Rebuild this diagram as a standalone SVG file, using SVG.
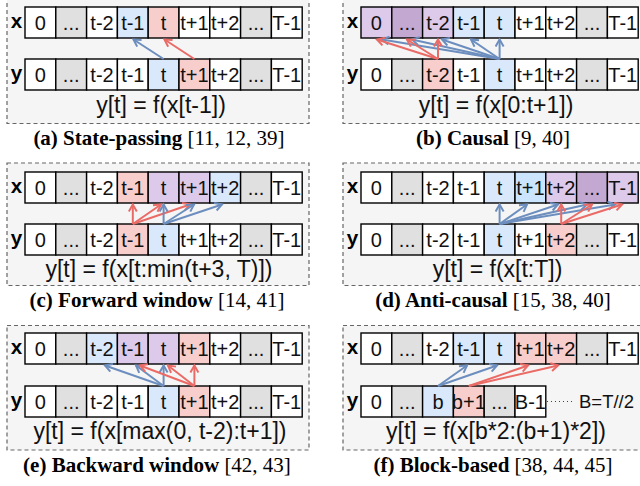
<svg xmlns="http://www.w3.org/2000/svg" width="640" height="486" viewBox="0 0 640 486">
<style>
.panel{fill:#f5f5f5;stroke:#666;stroke-width:1.2;stroke-dasharray:4 3}
rect.c{stroke:#000;stroke-width:1.4}
.w{fill:#fff}.g{fill:#e0e0e0}.b{fill:#dae8fc}.r{fill:#f8cecc}.p{fill:#ddc9ea}.dp{fill:#c3a9d2}.bb{fill:#cce5ff}
text{font-family:"Liberation Sans",Arial,sans-serif}
.t{font-size:20px;text-anchor:middle;fill:#111}
.lab{font-family:"Liberation Mono","Courier New",monospace;font-weight:bold;font-size:20px;text-anchor:middle}
.f{font-size:23px;text-anchor:middle;fill:#111}
.cap{font-family:"Liberation Serif","Times New Roman",serif;font-size:21px;text-anchor:middle}
.cap .bd{font-weight:bold}
.ab{stroke:#6c8ebf;stroke-width:2;fill:none}
.ar{stroke:#ea6b66;stroke-width:2;fill:none}
</style>
<defs>
<marker id="mb" markerUnits="userSpaceOnUse" markerWidth="12" markerHeight="12" refX="8" refY="5" orient="auto" viewBox="0 0 12 12"><path d="M1,1 L8,5 L1,9" fill="none" stroke="#6c8ebf" stroke-width="2"/></marker>
<marker id="mr" markerUnits="userSpaceOnUse" markerWidth="12" markerHeight="12" refX="8" refY="5" orient="auto" viewBox="0 0 12 12"><path d="M1,1 L8,5 L1,9" fill="none" stroke="#ea6b66" stroke-width="2"/></marker>
</defs>

<!-- panel backgrounds -->
<rect class="panel" x="7" y="-3" width="302" height="126.5"/>
<rect class="panel" x="343" y="-3" width="302" height="126.5"/>
<rect class="panel" x="7" y="163" width="302" height="122.5"/>
<rect class="panel" x="343" y="163" width="302" height="122.5"/>
<rect class="panel" x="7" y="325.5" width="302" height="124.5"/>
<rect class="panel" x="343" y="325.5" width="302" height="124.5"/>

<!-- Panel a -->
<g id="panel-a">
<text class="lab" x="16.5" y="27.5">x</text>
<text class="lab" x="16.5" y="79.5">y</text>
<g id="a-x0"><rect class="c w" x="25" y="7" width="30.8" height="31"/><text class="t" x="40.4" y="29.5">0</text></g>
<g id="a-x1"><rect class="c g" x="55.8" y="7" width="30.8" height="31"/><text class="t" x="71.2" y="29.5">...</text></g>
<g id="a-x2"><rect class="c w" x="86.6" y="7" width="30.8" height="31"/><text class="t" x="102" y="29.5">t-2</text></g>
<g id="a-x3"><rect class="c b" x="117.4" y="7" width="30.8" height="31"/><text class="t" x="132.8" y="29.5">t-1</text></g>
<g id="a-x4"><rect class="c r" x="148.2" y="7" width="30.8" height="31"/><text class="t" x="163.6" y="29.5">t</text></g>
<g id="a-x5"><rect class="c w" x="179" y="7" width="30.8" height="31"/><text class="t" x="194.4" y="29.5">t+1</text></g>
<g id="a-x6"><rect class="c w" x="209.8" y="7" width="30.8" height="31"/><text class="t" x="225.2" y="29.5">t+2</text></g>
<g id="a-x7"><rect class="c g" x="240.6" y="7" width="30.8" height="31"/><text class="t" x="256" y="29.5">...</text></g>
<g id="a-x8"><rect class="c w" x="271.4" y="7" width="30.8" height="31"/><text class="t" x="286.8" y="29.5">T-1</text></g>
<g id="a-y0"><rect class="c w" x="25" y="59" width="30.8" height="31"/><text class="t" x="40.4" y="81.5">0</text></g>
<g id="a-y1"><rect class="c g" x="55.8" y="59" width="30.8" height="31"/><text class="t" x="71.2" y="81.5">...</text></g>
<g id="a-y2"><rect class="c w" x="86.6" y="59" width="30.8" height="31"/><text class="t" x="102" y="81.5">t-2</text></g>
<g id="a-y3"><rect class="c w" x="117.4" y="59" width="30.8" height="31"/><text class="t" x="132.8" y="81.5">t-1</text></g>
<g id="a-y4"><rect class="c b" x="148.2" y="59" width="30.8" height="31"/><text class="t" x="163.6" y="81.5">t</text></g>
<g id="a-y5"><rect class="c r" x="179" y="59" width="30.8" height="31"/><text class="t" x="194.4" y="81.5">t+1</text></g>
<g id="a-y6"><rect class="c w" x="209.8" y="59" width="30.8" height="31"/><text class="t" x="225.2" y="81.5">t+2</text></g>
<g id="a-y7"><rect class="c g" x="240.6" y="59" width="30.8" height="31"/><text class="t" x="256" y="81.5">...</text></g>
<g id="a-y8"><rect class="c w" x="271.4" y="59" width="30.8" height="31"/><text class="t" x="286.8" y="81.5">T-1</text></g>
<text class="f" x="161" y="112.5">y[t] = f(x[t-1])</text>
<text class="cap" x="159" y="144.5"><tspan class="bd">(a) State-passing</tspan> [11, 12, 39]</text>
</g>

<!-- Panel b -->
<g id="panel-b">
<text class="lab" x="352.5" y="27.5">x</text>
<text class="lab" x="352.5" y="79.5">y</text>
<g id="b-x0"><rect class="c p" x="361" y="7" width="30.8" height="31"/><text class="t" x="376.4" y="29.5">0</text></g>
<g id="b-x1"><rect class="c dp" x="391.8" y="7" width="30.8" height="31"/><text class="t" x="407.2" y="29.5">...</text></g>
<g id="b-x2"><rect class="c p" x="422.6" y="7" width="30.8" height="31"/><text class="t" x="438" y="29.5">t-2</text></g>
<g id="b-x3"><rect class="c b" x="453.4" y="7" width="30.8" height="31"/><text class="t" x="468.8" y="29.5">t-1</text></g>
<g id="b-x4"><rect class="c b" x="484.2" y="7" width="30.8" height="31"/><text class="t" x="499.6" y="29.5">t</text></g>
<g id="b-x5"><rect class="c w" x="515" y="7" width="30.8" height="31"/><text class="t" x="530.4" y="29.5">t+1</text></g>
<g id="b-x6"><rect class="c w" x="545.8" y="7" width="30.8" height="31"/><text class="t" x="561.2" y="29.5">t+2</text></g>
<g id="b-x7"><rect class="c g" x="576.6" y="7" width="30.8" height="31"/><text class="t" x="592" y="29.5">...</text></g>
<g id="b-x8"><rect class="c w" x="607.4" y="7" width="30.8" height="31"/><text class="t" x="622.8" y="29.5">T-1</text></g>
<g id="b-y0"><rect class="c w" x="361" y="59" width="30.8" height="31"/><text class="t" x="376.4" y="81.5">0</text></g>
<g id="b-y1"><rect class="c g" x="391.8" y="59" width="30.8" height="31"/><text class="t" x="407.2" y="81.5">...</text></g>
<g id="b-y2"><rect class="c r" x="422.6" y="59" width="30.8" height="31"/><text class="t" x="438" y="81.5">t-2</text></g>
<g id="b-y3"><rect class="c w" x="453.4" y="59" width="30.8" height="31"/><text class="t" x="468.8" y="81.5">t-1</text></g>
<g id="b-y4"><rect class="c b" x="484.2" y="59" width="30.8" height="31"/><text class="t" x="499.6" y="81.5">t</text></g>
<g id="b-y5"><rect class="c w" x="515" y="59" width="30.8" height="31"/><text class="t" x="530.4" y="81.5">t+1</text></g>
<g id="b-y6"><rect class="c w" x="545.8" y="59" width="30.8" height="31"/><text class="t" x="561.2" y="81.5">t+2</text></g>
<g id="b-y7"><rect class="c g" x="576.6" y="59" width="30.8" height="31"/><text class="t" x="592" y="81.5">...</text></g>
<g id="b-y8"><rect class="c w" x="607.4" y="59" width="30.8" height="31"/><text class="t" x="622.8" y="81.5">T-1</text></g>
<text class="f" x="496" y="112.5">y[t] = f(x[0:t+1])</text>
<text class="cap" x="493" y="144.5"><tspan class="bd">(b) Causal</tspan> [9, 40]</text>
</g>

<!-- Panel c -->
<g id="panel-c">
<text class="lab" x="16.5" y="192.5">x</text>
<text class="lab" x="16.5" y="244.5">y</text>
<g id="c-x0"><rect class="c w" x="25" y="172" width="30.8" height="31"/><text class="t" x="40.4" y="194.5">0</text></g>
<g id="c-x1"><rect class="c g" x="55.8" y="172" width="30.8" height="31"/><text class="t" x="71.2" y="194.5">...</text></g>
<g id="c-x2"><rect class="c w" x="86.6" y="172" width="30.8" height="31"/><text class="t" x="102" y="194.5">t-2</text></g>
<g id="c-x3"><rect class="c r" x="117.4" y="172" width="30.8" height="31"/><text class="t" x="132.8" y="194.5">t-1</text></g>
<g id="c-x4"><rect class="c p" x="148.2" y="172" width="30.8" height="31"/><text class="t" x="163.6" y="194.5">t</text></g>
<g id="c-x5"><rect class="c p" x="179" y="172" width="30.8" height="31"/><text class="t" x="194.4" y="194.5">t+1</text></g>
<g id="c-x6"><rect class="c b" x="209.8" y="172" width="30.8" height="31"/><text class="t" x="225.2" y="194.5">t+2</text></g>
<g id="c-x7"><rect class="c g" x="240.6" y="172" width="30.8" height="31"/><text class="t" x="256" y="194.5">...</text></g>
<g id="c-x8"><rect class="c w" x="271.4" y="172" width="30.8" height="31"/><text class="t" x="286.8" y="194.5">T-1</text></g>
<g id="c-y0"><rect class="c w" x="25" y="224" width="30.8" height="31"/><text class="t" x="40.4" y="246.5">0</text></g>
<g id="c-y1"><rect class="c g" x="55.8" y="224" width="30.8" height="31"/><text class="t" x="71.2" y="246.5">...</text></g>
<g id="c-y2"><rect class="c w" x="86.6" y="224" width="30.8" height="31"/><text class="t" x="102" y="246.5">t-2</text></g>
<g id="c-y3"><rect class="c r" x="117.4" y="224" width="30.8" height="31"/><text class="t" x="132.8" y="246.5">t-1</text></g>
<g id="c-y4"><rect class="c b" x="148.2" y="224" width="30.8" height="31"/><text class="t" x="163.6" y="246.5">t</text></g>
<g id="c-y5"><rect class="c w" x="179" y="224" width="30.8" height="31"/><text class="t" x="194.4" y="246.5">t+1</text></g>
<g id="c-y6"><rect class="c w" x="209.8" y="224" width="30.8" height="31"/><text class="t" x="225.2" y="246.5">t+2</text></g>
<g id="c-y7"><rect class="c g" x="240.6" y="224" width="30.8" height="31"/><text class="t" x="256" y="246.5">...</text></g>
<g id="c-y8"><rect class="c w" x="271.4" y="224" width="30.8" height="31"/><text class="t" x="286.8" y="246.5">T-1</text></g>
<text class="f" x="159" y="276.5">y[t] = f(x[t:min(t+3, T)])</text>
<text class="cap" x="157" y="307"><tspan class="bd">(c) Forward window</tspan> [14, 41]</text>
</g>

<!-- Panel d -->
<g id="panel-d">
<text class="lab" x="352.5" y="192.5">x</text>
<text class="lab" x="352.5" y="244.5">y</text>
<g id="d-x0"><rect class="c w" x="361" y="172" width="30.8" height="31"/><text class="t" x="376.4" y="194.5">0</text></g>
<g id="d-x1"><rect class="c g" x="391.8" y="172" width="30.8" height="31"/><text class="t" x="407.2" y="194.5">...</text></g>
<g id="d-x2"><rect class="c w" x="422.6" y="172" width="30.8" height="31"/><text class="t" x="438" y="194.5">t-2</text></g>
<g id="d-x3"><rect class="c w" x="453.4" y="172" width="30.8" height="31"/><text class="t" x="468.8" y="194.5">t-1</text></g>
<g id="d-x4"><rect class="c b" x="484.2" y="172" width="30.8" height="31"/><text class="t" x="499.6" y="194.5">t</text></g>
<g id="d-x5"><rect class="c bb" x="515" y="172" width="30.8" height="31"/><text class="t" x="530.4" y="194.5">t+1</text></g>
<g id="d-x6"><rect class="c p" x="545.8" y="172" width="30.8" height="31"/><text class="t" x="561.2" y="194.5">t+2</text></g>
<g id="d-x7"><rect class="c dp" x="576.6" y="172" width="30.8" height="31"/><text class="t" x="592" y="194.5">...</text></g>
<g id="d-x8"><rect class="c p" x="607.4" y="172" width="30.8" height="31"/><text class="t" x="622.8" y="194.5">T-1</text></g>
<g id="d-y0"><rect class="c w" x="361" y="224" width="30.8" height="31"/><text class="t" x="376.4" y="246.5">0</text></g>
<g id="d-y1"><rect class="c g" x="391.8" y="224" width="30.8" height="31"/><text class="t" x="407.2" y="246.5">...</text></g>
<g id="d-y2"><rect class="c w" x="422.6" y="224" width="30.8" height="31"/><text class="t" x="438" y="246.5">t-2</text></g>
<g id="d-y3"><rect class="c w" x="453.4" y="224" width="30.8" height="31"/><text class="t" x="468.8" y="246.5">t-1</text></g>
<g id="d-y4"><rect class="c b" x="484.2" y="224" width="30.8" height="31"/><text class="t" x="499.6" y="246.5">t</text></g>
<g id="d-y5"><rect class="c w" x="515" y="224" width="30.8" height="31"/><text class="t" x="530.4" y="246.5">t+1</text></g>
<g id="d-y6"><rect class="c r" x="545.8" y="224" width="30.8" height="31"/><text class="t" x="561.2" y="246.5">t+2</text></g>
<g id="d-y7"><rect class="c g" x="576.6" y="224" width="30.8" height="31"/><text class="t" x="592" y="246.5">...</text></g>
<g id="d-y8"><rect class="c w" x="607.4" y="224" width="30.8" height="31"/><text class="t" x="622.8" y="246.5">T-1</text></g>
<text class="f" x="497.5" y="277">y[t] = f(x[t:T])</text>
<text class="cap" x="493" y="307"><tspan class="bd">(d) Anti-causal</tspan> [15, 38, 40]</text>
</g>

<!-- Panel e -->
<g id="panel-e">
<text class="lab" x="16.5" y="353.5">x</text>
<text class="lab" x="16.5" y="406.5">y</text>
<g id="e-x0"><rect class="c w" x="25" y="333" width="30.8" height="31"/><text class="t" x="40.4" y="355.5">0</text></g>
<g id="e-x1"><rect class="c g" x="55.8" y="333" width="30.8" height="31"/><text class="t" x="71.2" y="355.5">...</text></g>
<g id="e-x2"><rect class="c b" x="86.6" y="333" width="30.8" height="31"/><text class="t" x="102" y="355.5">t-2</text></g>
<g id="e-x3"><rect class="c p" x="117.4" y="333" width="30.8" height="31"/><text class="t" x="132.8" y="355.5">t-1</text></g>
<g id="e-x4"><rect class="c p" x="148.2" y="333" width="30.8" height="31"/><text class="t" x="163.6" y="355.5">t</text></g>
<g id="e-x5"><rect class="c r" x="179" y="333" width="30.8" height="31"/><text class="t" x="194.4" y="355.5">t+1</text></g>
<g id="e-x6"><rect class="c w" x="209.8" y="333" width="30.8" height="31"/><text class="t" x="225.2" y="355.5">t+2</text></g>
<g id="e-x7"><rect class="c g" x="240.6" y="333" width="30.8" height="31"/><text class="t" x="256" y="355.5">...</text></g>
<g id="e-x8"><rect class="c w" x="271.4" y="333" width="30.8" height="31"/><text class="t" x="286.8" y="355.5">T-1</text></g>
<g id="e-y0"><rect class="c w" x="25" y="386" width="30.8" height="31"/><text class="t" x="40.4" y="408.5">0</text></g>
<g id="e-y1"><rect class="c g" x="55.8" y="386" width="30.8" height="31"/><text class="t" x="71.2" y="408.5">...</text></g>
<g id="e-y2"><rect class="c w" x="86.6" y="386" width="30.8" height="31"/><text class="t" x="102" y="408.5">t-2</text></g>
<g id="e-y3"><rect class="c w" x="117.4" y="386" width="30.8" height="31"/><text class="t" x="132.8" y="408.5">t-1</text></g>
<g id="e-y4"><rect class="c b" x="148.2" y="386" width="30.8" height="31"/><text class="t" x="163.6" y="408.5">t</text></g>
<g id="e-y5"><rect class="c r" x="179" y="386" width="30.8" height="31"/><text class="t" x="194.4" y="408.5">t+1</text></g>
<g id="e-y6"><rect class="c w" x="209.8" y="386" width="30.8" height="31"/><text class="t" x="225.2" y="408.5">t+2</text></g>
<g id="e-y7"><rect class="c g" x="240.6" y="386" width="30.8" height="31"/><text class="t" x="256" y="408.5">...</text></g>
<g id="e-y8"><rect class="c w" x="271.4" y="386" width="30.8" height="31"/><text class="t" x="286.8" y="408.5">T-1</text></g>
<text class="f" x="160" y="438.5">y[t] = f(x[max(0, t-2):t+1])</text>
<text class="cap" x="157" y="472"><tspan class="bd">(e) Backward window</tspan> [42, 43]</text>
</g>

<!-- Panel f -->
<g id="panel-f">
<text class="lab" x="352.5" y="353.5">x</text>
<text class="lab" x="352.5" y="406.5">y</text>
<g id="f-x0"><rect class="c w" x="361" y="333" width="30.8" height="31"/><text class="t" x="376.4" y="355.5">0</text></g>
<g id="f-x1"><rect class="c g" x="391.8" y="333" width="30.8" height="31"/><text class="t" x="407.2" y="355.5">...</text></g>
<g id="f-x2"><rect class="c w" x="422.6" y="333" width="30.8" height="31"/><text class="t" x="438" y="355.5">t-2</text></g>
<g id="f-x3"><rect class="c b" x="453.4" y="333" width="30.8" height="31"/><text class="t" x="468.8" y="355.5">t-1</text></g>
<g id="f-x4"><rect class="c b" x="484.2" y="333" width="30.8" height="31"/><text class="t" x="499.6" y="355.5">t</text></g>
<g id="f-x5"><rect class="c r" x="515" y="333" width="30.8" height="31"/><text class="t" x="530.4" y="355.5">t+1</text></g>
<g id="f-x6"><rect class="c r" x="545.8" y="333" width="30.8" height="31"/><text class="t" x="561.2" y="355.5">t+2</text></g>
<g id="f-x7"><rect class="c g" x="576.6" y="333" width="30.8" height="31"/><text class="t" x="592" y="355.5">...</text></g>
<g id="f-x8"><rect class="c w" x="607.4" y="333" width="30.8" height="31"/><text class="t" x="622.8" y="355.5">T-1</text></g>
<g id="f-y0"><rect class="c w" x="361" y="386" width="30.8" height="31"/><text class="t" x="376.4" y="408.5">0</text></g>
<g id="f-y1"><rect class="c g" x="391.8" y="386" width="30.8" height="31"/><text class="t" x="407.2" y="408.5">...</text></g>
<g id="f-y2"><rect class="c b" x="422.6" y="386" width="30.8" height="31"/><text class="t" x="438" y="408.5">b</text></g>
<g id="f-y3"><rect class="c r" x="453.4" y="386" width="30.8" height="31"/><text class="t" x="468.8" y="408.5">b+1</text></g>
<g id="f-y4"><rect class="c g" x="484.2" y="386" width="30.8" height="31"/><text class="t" x="499.6" y="408.5">...</text></g>
<g id="f-y5"><rect class="c w" x="515" y="386" width="30.8" height="31"/><text class="t" x="530.4" y="408.5">B-1</text></g>
<text x="579" y="408" style="font-size:18.5px;fill:#111">B=T//2</text>
<text class="f" x="496" y="438.5">y[t] = f(x[b*2:(b+1)*2])</text>
<text class="cap" x="493" y="472"><tspan class="bd">(f) Block-based</tspan> [38, 44, 45]</text>
</g>

<!-- connectors -->
<g id="connectors">
<line x1="547" y1="401.5" x2="573" y2="401.5" stroke="#444" stroke-width="1.2" stroke-dasharray="1 3"/>
<!-- a -->
<path class="ab" marker-end="url(#mb)" d="M163.6,59 L133.5,39.5"/>
<path class="ar" marker-end="url(#mr)" d="M194.4,59 L164.5,39.5"/>
<!-- b -->
<path class="ab" marker-end="url(#mb)" d="M499.6,59 L382,39.5"/>
<path class="ab" marker-end="url(#mb)" d="M499.6,59 L412,39.5"/>
<path class="ab" marker-end="url(#mb)" d="M499.6,59 L442,39.5"/>
<path class="ab" marker-end="url(#mb)" d="M499.6,59 L471,39.5"/>
<path class="ab" marker-end="url(#mb)" d="M499.6,59 L499.6,39.5"/>
<path class="ar" marker-end="url(#mr)" d="M438,59 L377,39.5"/>
<path class="ar" marker-end="url(#mr)" d="M438,59 L407,39.5"/>
<path class="ar" marker-end="url(#mr)" d="M438,59 L438,39.5"/>
<!-- c -->
<path class="ar" marker-end="url(#mr)" d="M132.8,224 L132.8,204.5"/>
<path class="ar" marker-end="url(#mr)" d="M132.8,224 L161,204.5"/>
<path class="ar" marker-end="url(#mr)" d="M132.8,224 L190,204.5"/>
<path class="ab" marker-end="url(#mb)" d="M163.6,224 L163.6,204.5"/>
<path class="ab" marker-end="url(#mb)" d="M163.6,224 L194,204.5"/>
<path class="ab" marker-end="url(#mb)" d="M163.6,224 L222,204.5"/>
<!-- d -->
<path class="ab" marker-end="url(#mb)" d="M499.6,224 L499.6,204.5"/>
<path class="ab" marker-end="url(#mb)" d="M499.6,224 L527,204.5"/>
<path class="ab" marker-end="url(#mb)" d="M499.6,224 L558,204.5"/>
<path class="ab" marker-end="url(#mb)" d="M499.6,224 L587,204.5"/>
<path class="ab" marker-end="url(#mb)" d="M499.6,224 L615,204.5"/>
<path class="ar" marker-end="url(#mr)" d="M561.2,224 L561.2,204.5"/>
<path class="ar" marker-end="url(#mr)" d="M561.2,224 L592,204.5"/>
<path class="ar" marker-end="url(#mr)" d="M561.2,224 L622,204.5"/>
<!-- e -->
<path class="ab" marker-end="url(#mb)" d="M163.6,386 L105,365.5"/>
<path class="ab" marker-end="url(#mb)" d="M163.6,386 L136,365.5"/>
<path class="ab" marker-end="url(#mb)" d="M163.6,386 L163.6,365.5"/>
<path class="ar" marker-end="url(#mr)" d="M194.4,386 L140,365.5"/>
<path class="ar" marker-end="url(#mr)" d="M194.4,386 L168,365.5"/>
<path class="ar" marker-end="url(#mr)" d="M194.4,386 L194.4,365.5"/>
<!-- f -->
<path class="ab" marker-end="url(#mb)" d="M438,386 L467,365.5"/>
<path class="ab" marker-end="url(#mb)" d="M438,386 L497,365.5"/>
<path class="ar" marker-end="url(#mr)" d="M468.8,386 L528,365.5"/>
<path class="ar" marker-end="url(#mr)" d="M468.8,386 L558,365.5"/>
</g>
</svg>
